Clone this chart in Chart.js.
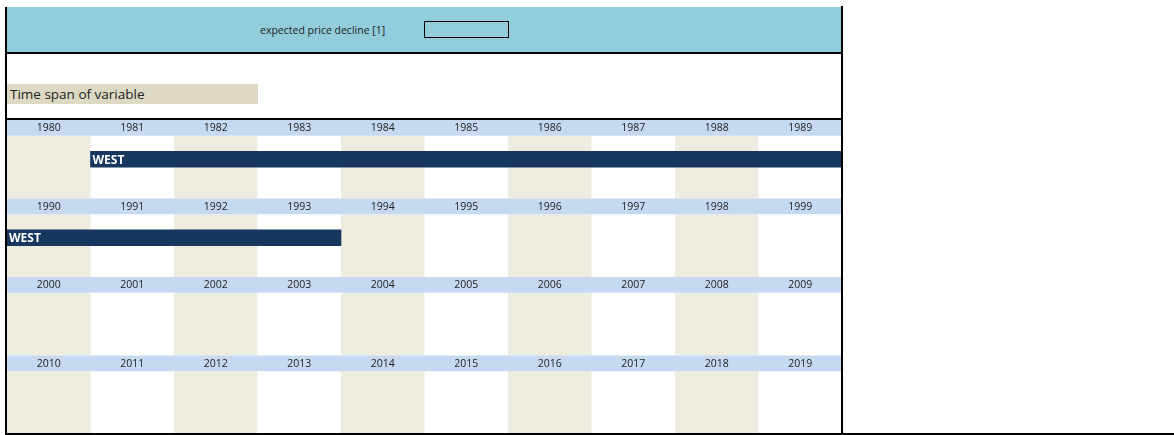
<!DOCTYPE html>
<html>
<head>
<meta charset="utf-8">
<script src="https://cdn.jsdelivr.net/npm/chart.js@4.4.0/dist/chart.umd.min.js"></script>
<style>
  body { margin: 0; background: #fff; font-family: "Open Sans", sans-serif; }
  #wrap { position: relative; width: 1174px; height: 435px; overflow: hidden; }
  #timeline { position: absolute; left: 0; top: 0; }
  #hdr {
    position: absolute; left: 5px; top: 7px; width: 834px; height: 45px;
    background: #92CDDC; border: 2px solid #000; border-top: none;
  }
  #hdrText { position: absolute; left: 260px; top: 23px; font-size: 10.5px; line-height: 14px; color: #222; }
  #hdrBox { position: absolute; left: 424px; top: 21px; width: 83px; height: 15px; border: 1px solid #000; }
  #spanTitle {
    position: absolute; left: 7px; top: 84px; width: 248px; height: 20px; padding-left: 3px;
    background: #DDD9C4; font-size: 13.5px; line-height: 20px; color: #222;
  }
</style>
</head>
<body>
<div id="wrap">
  <canvas id="timeline" width="1174" height="435"></canvas>
  <div id="hdr"></div>
  <div id="hdrText">expected price decline [1]</div>
  <div id="hdrBox"></div>
  <div id="spanTitle">Time span of variable</div>
</div>
<script>
document.addEventListener('DOMContentLoaded', function () {
  // Year grid (one row per decade)
  const yearRows = [
    [1980, 1981, 1982, 1983, 1984, 1985, 1986, 1987, 1988, 1989],
    [1990, 1991, 1992, 1993, 1994, 1995, 1996, 1997, 1998, 1999],
    [2000, 2001, 2002, 2003, 2004, 2005, 2006, 2007, 2008, 2009],
    [2010, 2011, 2012, 2013, 2014, 2015, 2016, 2017, 2018, 2019],
  ];

  // Time spans (first year, last year inclusive)
  const spanNames = ['WEST'];
  const spanStart = [1981];
  const spanEnd = [1993];

  // each decade block: header row, empty row, bar row, two empty rows
  const subRows = 5;
  const barSubRow = 2;
  const cols = 10;

  const labels = [];
  for (let i = 0; i < yearRows.length * subRows; i++) labels.push('r' + i);

  // split each span into per-decade floating bars
  const barData = labels.map(() => null);
  const barNames = labels.map(() => '');
  spanNames.forEach(function (name, s) {
    yearRows.forEach(function (row, b) {
      const first = row[0];
      const last = row[row.length - 1];
      if (spanEnd[s] < first || spanStart[s] > last) return;
      const from = Math.max(spanStart[s], first) - first;
      const to = Math.min(spanEnd[s], last) - first + 1;
      barData[b * subRows + barSubRow] = [from, to];
      barNames[b * subRows + barSubRow] = name;
    });
  });

  const gridPlugin = {
    id: 'grid',
    beforeDatasetsDraw(chart) {
      const c = chart.ctx;
      const xs = chart.scales.x;
      const ys = chart.scales.y;
      const rowH = (chart.chartArea.bottom - chart.chartArea.top) / labels.length;
      const top = (i) => ys.getPixelForValue(i) - rowH / 2;
      c.save();
      yearRows.forEach(function (row, b) {
        const h0 = b * subRows;
        // shaded columns
        c.fillStyle = '#EEECE1';
        for (let k = 0; k < cols; k += 2) {
          const x0 = xs.getPixelForValue(k);
          const x1 = xs.getPixelForValue(k + 1);
          c.fillRect(x0, top(h0 + 1), x1 - x0, rowH * (subRows - 1));
        }
        // header band
        c.fillStyle = '#C5D9F1';
        c.fillRect(xs.getPixelForValue(0), top(h0), xs.getPixelForValue(cols) - xs.getPixelForValue(0), rowH);
        // year labels
        c.fillStyle = '#222';
        c.font = '10.5px "Open Sans", sans-serif';
        c.textAlign = 'center';
        c.textBaseline = 'middle';
        row.forEach(function (yr, k) {
          c.fillText(String(yr), xs.getPixelForValue(k + 0.5), ys.getPixelForValue(h0) + 0.5);
        });
      });
      c.restore();
    },
    afterDatasetsDraw(chart) {
      const c = chart.ctx;
      const meta = chart.getDatasetMeta(0);
      c.save();
      c.fillStyle = '#fff';
      c.font = 'bold 12px "Open Sans", sans-serif';
      c.textAlign = 'left';
      c.textBaseline = 'middle';
      meta.data.forEach(function (bar, i) {
        if (!barData[i]) return;
        const p = bar.getProps(['x', 'y', 'base'], true);
        c.fillText(barNames[i], Math.min(p.x, p.base) + 2, p.y + 1);
      });
      // sheet borders
      c.fillStyle = '#000';
      c.fillRect(5, 7, 2, 428);
      c.fillRect(841, 6, 2, 429);
      c.fillRect(5, 118, 838, 2);
      c.fillRect(5, 433, 1169, 2);
      c.restore();
    },
  };

  new Chart(document.getElementById('timeline'), {
    type: 'bar',
    data: {
      labels: labels,
      datasets: [
        {
          data: barData,
          backgroundColor: '#17375E',
          borderWidth: 0,
          borderSkipped: false,
          barPercentage: 1,
          categoryPercentage: 1,
        },
      ],
    },
    options: {
      indexAxis: 'y',
      responsive: false,
      animation: false,
      layout: { padding: { left: 7, right: 332, top: 120, bottom: 1 } },
      scales: {
        x: { type: 'linear', min: 0, max: cols, display: false },
        y: { display: false },
      },
      plugins: {
        legend: { display: false },
        tooltip: { enabled: false },
      },
    },
    plugins: [gridPlugin],
  });
});
</script>
</body>
</html>
